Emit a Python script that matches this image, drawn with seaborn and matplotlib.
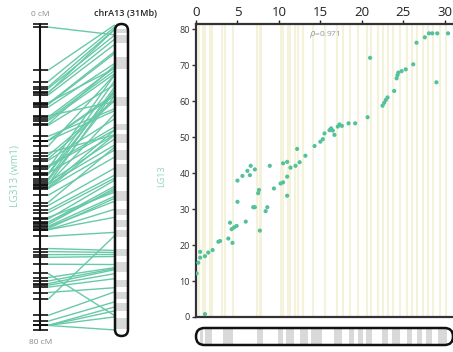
import numpy as np
import pandas as pd
import seaborn as sns
import matplotlib.pyplot as plt
from matplotlib.patches import FancyBboxPatch, Rectangle
from matplotlib.collections import LineCollection

sns.set_theme(style="white")
plt.rcParams['font.family'] = ['Open Sans', 'DejaVu Sans']

# ---- data -------------------------------------------------------------
# physical position on chrA13 (Mb) and genetic position on LG13 (cM)
phys_mb = [0.08, 0.28, 0.5, 0.5, 1.08, 1.48, 2.0, 1.08, 2.7, 2.9, 3.9, 4.4,
           4.3, 4.6, 4.9, 4.1, 6.0, 7.7, 5.0, 5.0, 5.6, 6.2, 6.6, 7.1, 6.5,
           6.9, 7.1, 7.5, 7.6, 8.4, 8.6, 8.9, 9.4, 10.2, 10.5, 11.0, 11.0,
           10.5, 11.0, 11.4, 12.0, 12.5, 13.2, 12.2, 14.3, 15.0, 15.3, 15.5,
           16.1, 16.3, 16.5, 16.7, 17.1, 17.3, 17.6, 18.4, 19.2, 20.7, 21.0,
           22.5, 22.7, 22.9, 23.1, 23.9, 24.2, 24.3, 24.4, 24.8, 25.3, 26.2,
           26.6, 27.6, 28.1, 28.5, 29.1, 30.4, 29.0]
lg_cm = [12.1, 15.1, 16.5, 18.1, 16.9, 17.9, 18.6, 0.8, 20.9, 21.1, 21.8, 20.6,
         24.4, 24.9, 25.3, 26.2, 26.5, 24.0, 32.0, 37.9, 39.2, 40.6, 42.0, 41.0,
         39.4, 30.5, 30.5, 34.4, 35.3, 29.4, 30.5, 42.0, 35.7, 37.1, 37.4, 39.0,
         33.7, 42.7, 43.1, 41.5, 42.0, 43.0, 44.8, 46.7, 47.5, 48.7, 49.4, 51.0,
         51.9, 52.4, 51.8, 50.6, 52.9, 53.5, 53.1, 53.8, 53.8, 55.5, 72.0,
         58.7, 59.5, 60.3, 61.0, 62.8, 66.3, 67.2, 67.9, 68.3, 68.8, 70.2,
         76.2, 77.7, 78.8, 78.8, 78.8, 78.8, 65.2]

# all marker positions on the physical map (Mb)
marker_mb = [0.4, 0.85, 1.1, 1.7, 1.9, 3.1, 3.5, 4.5, 7.3, 7.7, 7.9, 10.3,
             10.5, 11.1, 11.3, 12.0, 12.3, 12.9, 14.1, 15.5, 17.0, 17.7, 18.6,
             19.6, 20.6, 21.1, 21.9, 22.6, 23.2, 23.8, 24.6, 25.4, 26.0, 26.6,
             27.4, 28.0, 28.6, 29.4, 30.2]

# cytoband (grey) intervals on chrA13, Mb
band_start = [0.5, 1.1, 3.3, 7.3, 9.9, 10.9, 12.5, 13.9, 16.6, 18.4, 19.5,
              20.5, 22.4, 23.6, 25.4, 26.6, 27.7, 29.2]
band_end = [0.9, 1.9, 4.5, 8.1, 10.5, 11.8, 13.5, 15.2, 17.6, 19.0, 20.2,
            21.2, 23.1, 24.6, 26.1, 27.3, 28.5, 30.3]

chrom_label = "chrA13 (31Mb)"
chrom_len = 31
lg_label = "LG313 (wm1)"
lg_len = 80
ylabel = "LG13"
rho_label = r"$\rho$=0.971"
x_ticks = [0, 5, 10, 15, 20, 25, 30]
y_ticks = [0, 10, 20, 30, 40, 50, 60, 70, 80]

DOT = "#55c09c"
LINE_TEAL = "#68c9a9"
LABEL_TEAL = "#8fd5bd"
BAND = "#d9d9d9"
STRIPE = "#f5f2dc"

df = pd.DataFrame({"phys": phys_mb, "cm": lg_cm})

W, H = 453, 352
fig = plt.figure(figsize=(W / 100, H / 100), dpi=100)

# ---- scatter: physical vs genetic ------------------------------------
ax_l, ax_top, ax_bot = 196, 24, 317
ax = fig.add_axes([ax_l / W, (H - ax_bot) / H, (W - ax_l) / W, (ax_bot - ax_top) / H])
ymax = 81.4
ax.set_xlim(0, chrom_len)
ax.set_ylim(0, ymax)
ax.vlines(marker_mb, 0, ymax, color=STRIPE, lw=1.5, zorder=0)
sns.scatterplot(data=df, x="phys", y="cm", ax=ax, color=DOT, s=9,
                edgecolor="none", linewidth=0, zorder=3)
ax.set_xlabel("")
ax.set_ylabel(ylabel, color=LABEL_TEAL, fontsize=6.5)
ax.yaxis.set_label_coords(-0.118, 0.48)
ax.set_xticks(x_ticks)
ax.set_yticks(y_ticks)
ax.xaxis.tick_top()
ax.tick_params(axis="x", top=True, bottom=False, length=3, width=1,
               labelsize=9.5, colors="#222", pad=0.5)
ax.tick_params(axis="y", left=True, length=3, width=1, labelsize=6.5,
               colors="#333", pad=1.5)
for side in ("left", "top", "bottom"):
    ax.spines[side].set_color("#333")
    ax.spines[side].set_linewidth(1.6)
ax.spines["right"].set_visible(False)
ax.text(13.6, 78.6, rho_label, fontsize=6, color="#999", ha="left", va="center")

# ---- horizontal chromosome under the scatter -------------------------
hc_top, hc_bot = 328, 345
ax_c = fig.add_axes([ax_l / W, (H - hc_bot) / H, (W - ax_l) / W, (hc_bot - hc_top) / H],
                    sharex=ax)
ax_c.set_ylim(0, 1)
ax_c.axis("off")
wpx, hpx = W - ax_l, hc_bot - hc_top
outline_h = FancyBboxPatch((0, 0), 1, 1, transform=ax_c.transAxes,
                           boxstyle=f"round,pad=0,rounding_size={0.5 * hpx / wpx}",
                           mutation_aspect=wpx / hpx, fc="white", ec="none",
                           clip_on=False, zorder=1)
ax_c.add_patch(outline_h)
bars = ax_c.bar(band_start, 1, width=np.subtract(band_end, band_start), bottom=0,
                align="edge", color=BAND, lw=0, zorder=2)
for b in bars:
    b.set_clip_path(outline_h)
edge_h = FancyBboxPatch((0, 0), 1, 1, transform=ax_c.transAxes,
                        boxstyle=f"round,pad=0,rounding_size={0.5 * hpx / wpx}",
                        mutation_aspect=wpx / hpx, fc="none", ec="#111",
                        lw=1.8, clip_on=False, zorder=3)
ax_c.add_patch(edge_h)

# ---- left panel: linkage group vs vertical chromosome ----------------
axL = fig.add_axes([0, 0, ax_l / W, 1])
axL.set_xlim(0, ax_l)
axL.set_ylim(H, 0)
axL.axis("off")

LG_X, LG_T, LG_B = 40.5, 24, 330
CH_X, CH_W, CH_T, CH_B = 115, 13, 24, 336


def cm_to_y(v):
    return LG_T + np.asarray(v) / lg_len * (LG_B - LG_T)


def mb_to_y(v):
    return CH_T + np.asarray(v) / chrom_len * (CH_B - CH_T)


# connecting lines
segs = [[(48, cy), (CH_X, my)] for cy, my in zip(cm_to_y(lg_cm), mb_to_y(phys_mb))]
axL.add_collection(LineCollection(segs, colors=LINE_TEAL, linewidths=1.0, zorder=1))

# linkage group bar and marker ticks
axL.plot([LG_X, LG_X], [LG_T, LG_B], color="#111", lw=1.5, zorder=2)
tick_y = np.concatenate([[cm_to_y(0)], cm_to_y(lg_cm), [cm_to_y(lg_len)]])
axL.hlines(tick_y, 33, 48, color="#111", lw=1.2, zorder=2)

# vertical chromosome
rs = CH_W / 2
chr_v = FancyBboxPatch((CH_X, CH_T), CH_W, CH_B - CH_T,
                       boxstyle=f"round,pad=0,rounding_size={rs}",
                       fc="white", ec="none", zorder=3)
axL.add_patch(chr_v)
for s, e in zip(band_start, band_end):
    r = Rectangle((CH_X, mb_to_y(s)), CH_W, mb_to_y(e) - mb_to_y(s),
                  fc=BAND, ec="none", zorder=4)
    axL.add_patch(r)
    r.set_clip_path(chr_v)
axL.add_patch(FancyBboxPatch((CH_X, CH_T), CH_W, CH_B - CH_T,
                             boxstyle=f"round,pad=0,rounding_size={rs}",
                             fc="none", ec="#111", lw=1.8, zorder=5))

axL.text(LG_X, 14, "0 cM", fontsize=6, color="#8a8a8a", ha="center", va="center")
axL.text(LG_X, 343, "80 cM", fontsize=6, color="#8a8a8a", ha="center", va="center")
axL.text(CH_X + CH_W / 2 + 4, 13, chrom_label, fontsize=6.5, color="#222",
         fontweight="semibold", ha="center", va="center")
axL.text(15, 176, lg_label, fontsize=7.3, color=LABEL_TEAL, rotation=90,
         ha="center", va="center")

fig.savefig("out.png", dpi=100)
